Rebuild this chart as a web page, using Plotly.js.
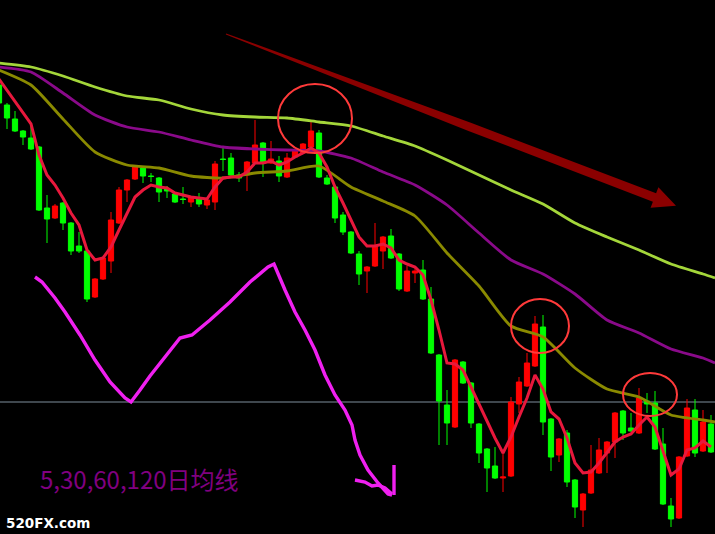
<!DOCTYPE html>
<html><head><meta charset="utf-8">
<script src="https://cdn.plot.ly/plotly-3.0.1.min.js"></script>
<style>html,body{margin:0;padding:0;background:#000;}#chart{width:715px;height:534px;}</style>
</head><body><div id="chart"></div>
<script>
// ---- data (price units) ----
const openVals = [449,429,415,403,396,387,326,316,331,311, 288,283,237,255,273,311,344,355,366,358,
  356,345,340,335,332,335,329,332,375,376, 359,359,371,391,371,373,357,377,381,387,
  401,356,347,319,302,280,263,268,283,298, 280,243,261,264,235,179,129,107,172,151,
  110,85,68,56,58,130,148,168,207,115, 79,101,54,24,41,61,81,92,123,106,
  101,133,131,90,28,16,78,124,83,110];
const highVals = [452,431,423,404,411,388,339,330,332,312, 302,284,256,277,322,347,355,368,367,361,
  357,348,341,347,338,341,335,373,386,381, 362,373,414,392,393,378,381,384,391,412,
  404,359,348,322,303,283,268,311,298,305, 281,268,268,274,247,180,144,175,173,152,
  111,86,87,81,137,157,181,218,219,116, 96,104,55,41,89,96,93,122,124,121,
  146,141,143,106,36,78,135,135,124,119];
const lowVals = [430,405,402,389,384,323,291,315,304,279, 281,232,236,254,261,310,332,354,351,352,
  332,336,331,330,327,327,325,324,363,358, 352,343,370,357,370,352,356,376,380,386,
  356,349,311,299,280,249,241,267,265,275, 243,242,251,234,180,89,89,106,150,106,
  71,42,55,42,57,121,147,167,99,63, 72,47,16,7,40,60,61,76,94,102,
  100,121,84,29,7,15,77,77,82,81];
const closeVals = [431,416,403,397,385,324,315,328,311,283, 283,235,255,276,314,344,354,367,358,357.5,
  342,343,332,334.5,337,330,334,370,374.5,359, 356,372,389,371,375,358,376,383,390,403,
  357,350,316,302,281,260,267,287,297,276, 245,263,263,235,181,133,111,174,151,111,
  81,66,56,57,132,152,171,210,112,77, 95,52,27,40,64,84,92,121,101,103,
  136,130,85,30,15,77,126,81,112,82];
const ma5 = [455,444,433,422,410,379,359,349,336,321, 309,284,274,276,287,304,321,337,344,349,
  347,346,341,339,337,336,335,347,356,357, 357,362,371,371,373,369,372,377,381,386,
  381,367,347,331,314,297,288,288,290,286, 274,270,267,259,234,204,171,170,164,147,
  131,114,96,81,97,117,136,159,145,122, 115,96,71,61,62,71,81,92,97,100,
  109,117,107,84,59,65,84,86,93,87];
const maIdx = [0,4,8,12,16,20,24,28,32,36,40,44,48,52,56,60,64,68,72,76,80,84,88,89.5];
const ma30 = [464,449,415,382,369,366,358,356,361,363,368,347,333,318,281,248,208,197,166,145,137,119,114,112];
const ma60 = [467,462,441,419,407,402,394,387,385,384,383,376,362,349,329,301,274,260,240,214,201,185,176,171];
const ma120 = [471,467,458,447,438,434,425,419,417,416,412,408,398,388,374,359,344,330,311,297,284,270,260,256];
const refLevel = 132;
const barIdx = openVals.map((_, i) => i);

// ---- annotation drawing helpers (pixel -> paper) ----
const W = 715, H = 534;
const px = x => x / W, py = y => 1 - y / H;
function pathFrom(pts, close) {
  return pts.map((p, i) => (i ? 'L' : 'M') + px(p[0]).toFixed(5) + ',' + py(p[1]).toFixed(5)).join(' ') + (close ? ' Z' : '');
}
const stroke1 = [[35,277],[42,282],[55,298],[65,312],[80,335],[95,360],[110,382],[125,398],[131,402],[140,390],[150,376],[165,357],[180,338],[192,335],[210,320],[230,302],[250,282],[268,267],[274,264],[285,290],[295,312],[305,330],[315,350],[325,375],[335,395],[345,410],[352,425],[355,440],[360,455],[368,470],[378,483],[388,494],[392,495]];
const stroke2 = [[355,480],[365,482],[372,486],[378,485],[385,488],[392,494]];
const stroke3 = [[394,465],[394,495]];
const arrowPoly = [[226.2,33.4],[471.5,123.1],[656.1,193.3],[658.4,187.2],[676,205.7],[650.6,207.8],[652.9,201.7],[468.5,130.9],[225.8,34.6]];

const traces = [
  {type:'candlestick', x:barIdx, open:openVals, high:highVals, low:lowVals, close:closeVals,
   increasing:{line:{color:'#ff0000', width:1}, fillcolor:'#ff0000'},
   decreasing:{line:{color:'#00ff00', width:1}, fillcolor:'#00ff00'},
   whiskerwidth:0, hoverinfo:'skip', showlegend:false},
  {type:'scatter', mode:'lines', x:maIdx, y:ma120, line:{color:'#a4d63a', width:2.8, shape:'spline', smoothing:0.6}, hoverinfo:'skip', showlegend:false},
  {type:'scatter', mode:'lines', x:maIdx, y:ma60, line:{color:'#8a0a8a', width:2.8, shape:'spline', smoothing:0.6}, hoverinfo:'skip', showlegend:false},
  {type:'scatter', mode:'lines', x:maIdx, y:ma30, line:{color:'#8a8a00', width:2.8, shape:'spline', smoothing:0.6}, hoverinfo:'skip', showlegend:false},
  {type:'scatter', mode:'lines', x:barIdx, y:ma5, line:{color:'#e8183c', width:3}, hoverinfo:'skip', showlegend:false}
];

const shapes = [
  {type:'line', xref:'paper', yref:'y', x0:0, x1:1, y0:refLevel, y1:refLevel, line:{color:'#7f8e9c', width:1}, layer:'below'},
  {type:'path', xref:'paper', yref:'paper', path:pathFrom(arrowPoly, true), fillcolor:'#8b0000', line:{width:0}},
  {type:'path', xref:'paper', yref:'paper', path:pathFrom(stroke1, false), line:{color:'#f020f0', width:3.4}},
  {type:'path', xref:'paper', yref:'paper', path:pathFrom(stroke2, false), line:{color:'#f020f0', width:3.4}},
  {type:'path', xref:'paper', yref:'paper', path:pathFrom(stroke3, false), line:{color:'#f020f0', width:3.4}},
  {type:'circle', xref:'paper', yref:'paper', x0:px(278), x1:px(352), y0:py(84), y1:py(153), line:{color:'#ff3a3a', width:2}},
  {type:'circle', xref:'paper', yref:'paper', x0:px(511), x1:px(569), y0:py(299), y1:py(353), line:{color:'#ff3a3a', width:2}},
  {type:'circle', xref:'paper', yref:'paper', x0:px(623), x1:px(677), y0:py(373), y1:py(416), line:{color:'#ff3a3a', width:2}}
];

const annotations = [
  {xref:'paper', yref:'paper', x:px(38), y:py(478), xanchor:'left', yanchor:'middle', showarrow:false,
   text:'5,30,60,120日均线', font:{family:'"Noto Sans CJK SC", "Noto Sans", sans-serif', size:24, color:'#800080'}},
  {xref:'paper', yref:'paper', x:px(4), y:py(523), xanchor:'left', yanchor:'middle', showarrow:false,
   text:'<b>520FX.com</b>', font:{family:'"DejaVu Sans", Verdana, sans-serif', size:13.5, color:'#ffffff'}}
];

const layout = {
  width:715, height:534, margin:{l:0, r:0, t:0, b:0},
  paper_bgcolor:'#000000', plot_bgcolor:'#000000',
  xaxis:{range:[0.125, 89.5], visible:false, rangeslider:{visible:false}, fixedrange:true},
  yaxis:{range:[0, 534], visible:false, fixedrange:true},
  boxgap:0.35, boxgroupgap:0,
  shapes:shapes, annotations:annotations, showlegend:false, dragmode:false
};
Plotly.newPlot('chart', traces, layout, {displayModeBar:false, staticPlot:true});
</script>
</body></html>
